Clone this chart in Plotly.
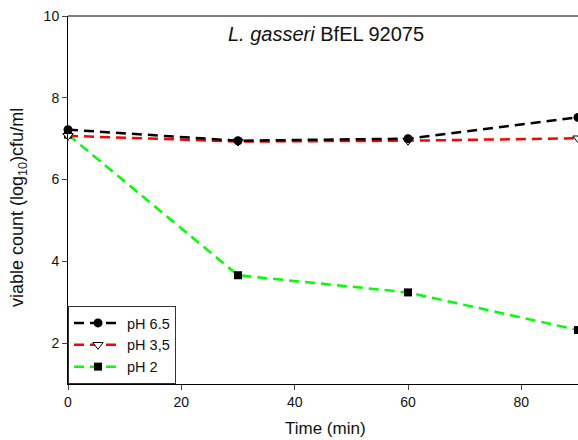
import plotly.graph_objects as go

time_min = [0, 30, 60, 90]
ph65 = [7.22, 6.95, 7.0, 7.52]
ph35 = [7.07, 6.93, 6.95, 7.01]
ph2 = [7.1, 3.66, 3.24, 2.32]
series_names = ["pH 6.5", "pH 3,5", "pH 2"]
x_ticks = [0, 20, 40, 60, 80]
y_ticks = [2, 4, 6, 8, 10]

DASH = "10px,6px"
fig = go.Figure()
fig.add_trace(go.Scatter(x=time_min, y=ph2, name=series_names[2], mode="lines+markers",
                         line=dict(color="#00ff00", width=2.5, dash=DASH),
                         marker=dict(symbol="square", size=8, color="black"),
                         legendrank=3, cliponaxis=False))
fig.add_trace(go.Scatter(x=time_min, y=ph35, name=series_names[1], mode="lines+markers",
                         line=dict(color="#ff0000", width=2.5, dash=DASH),
                         marker=dict(symbol="triangle-down", size=9, color="white",
                                     line=dict(color="black", width=1)),
                         legendrank=2, cliponaxis=False))
fig.add_trace(go.Scatter(x=time_min, y=ph65, name=series_names[0], mode="lines+markers",
                         line=dict(color="black", width=2.5, dash=DASH),
                         marker=dict(symbol="circle", size=9, color="black"),
                         legendrank=1, cliponaxis=False))

fig.update_layout(
    width=578, height=440,
    margin=dict(l=68, r=0, t=16, b=56),
    paper_bgcolor="white", plot_bgcolor="white",
    font=dict(family="Liberation Sans, Arial, sans-serif", size=14, color="#111111"),
    showlegend=True,
    legend=dict(x=0, y=0, xanchor="left", yanchor="bottom", bgcolor="white",
                bordercolor="#333333", borderwidth=1, font=dict(size=14.5),
                itemwidth=48, tracegroupgap=0),
    annotations=[
        dict(text="<i>L. gasseri</i> BfEL 92075", x=0.505, y=0.951,
             xref="paper", yref="paper", xanchor="center", yanchor="middle",
             showarrow=False, font=dict(size=20)),
        dict(text="Time (min)", x=0.504, y=-0.1196, xref="paper", yref="paper",
             xanchor="center", yanchor="middle", showarrow=False, font=dict(size=17)),
        dict(text="viable count (log<sub>10</sub>)cfu/ml", x=-0.0961, y=0.481,
             xref="paper", yref="paper", xanchor="center", yanchor="middle",
             textangle=-90, showarrow=False, font=dict(size=18)),
    ],
)
fig.update_xaxes(range=[0, 90], tickvals=x_ticks, ticks="outside", ticklen=5,
                 showline=True, linecolor="black", linewidth=1, mirror=False,
                 showgrid=False, zeroline=False, automargin=False,
                 ticklabeloverflow="allow")
fig.update_yaxes(range=[1, 10], tickvals=y_ticks, ticks="outside", ticklen=5,
                 showline=True, linecolor="black", linewidth=1,
                 showgrid=False, zeroline=False, automargin=False,
                 ticklabeloverflow="allow")
# top frame line
fig.add_shape(type="line", xref="paper", yref="paper", x0=0, x1=1, y0=1, y1=1,
              line=dict(color="black", width=1))

fig.write_html("out.html", config={"displayModeBar": False},
               post_script="document.body.style.margin='0';document.body.style.overflow='hidden';")
